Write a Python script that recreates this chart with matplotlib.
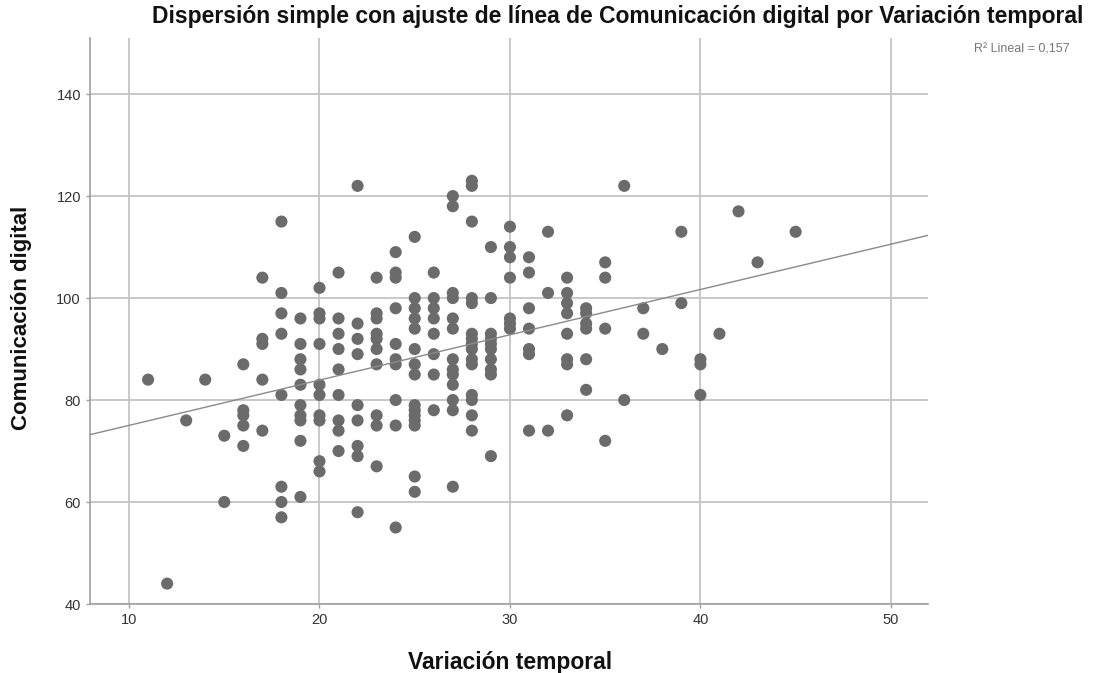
import numpy as np
import matplotlib
matplotlib.use("Agg")
import matplotlib.pyplot as plt

# Data: Variación temporal (x) -> list of Comunicación digital values (y)
columns = {
    11: [84],
    12: [44],
    13: [76],
    14: [84],
    15: [73, 60],
    16: [87, 78, 77, 75, 71],
    17: [104, 92, 91, 84, 74],
    18: [115, 101, 97, 93, 81, 63, 60, 57],
    19: [96, 91, 88, 86, 83, 79, 77, 76, 72, 61],
    20: [102, 97, 96, 91, 83, 81, 77, 76, 68, 66],
    21: [105, 96, 93, 90, 86, 81, 76, 74, 70],
    22: [122, 95, 92, 89, 79, 76, 71, 69, 58],
    23: [104, 97, 96, 93, 92, 90, 87, 77, 75, 67],
    24: [109, 105, 104, 98, 91, 88, 87, 80, 75, 55],
    25: [112, 100, 98, 96, 94, 90, 87, 85, 79, 78, 77, 76, 75, 65, 62],
    26: [105, 100, 98, 96, 93, 89, 85, 78],
    27: [120, 118, 101, 100, 96, 94, 88, 86, 85, 83, 80, 78, 63],
    28: [123, 122, 115, 100, 99, 93, 92, 91, 90, 88, 87, 81, 80, 77, 74],
    29: [110, 100, 93, 92, 91, 90, 88, 86, 85, 69],
    30: [114, 110, 108, 104, 96, 95, 94],
    31: [108, 105, 98, 94, 90, 89, 74],
    32: [113, 101, 74],
    33: [104, 101, 99, 97, 93, 88, 87, 77],
    34: [98, 97, 95, 94, 88, 82],
    35: [107, 104, 94, 72],
    36: [122, 80],
    37: [98, 93],
    38: [90],
    39: [113, 99],
    40: [88, 87, 81],
    41: [93],
    42: [117],
    43: [107],
    45: [113],
}
x_vals = [x for x, ys in columns.items() for _ in ys]
y_vals = [y for ys in columns.values() for y in ys]

x_ticks = [10, 20, 30, 40, 50]
y_ticks = [40, 60, 80, 100, 120, 140]
title = "Dispersión simple con ajuste de línea de Comunicación digital por Variación temporal"
xlabel = "Variación temporal"
ylabel = "Comunicación digital"
r2_text = "R² Lineal = 0,157"

plt.rcParams['font.family'] = ['Liberation Sans', 'DejaVu Sans']

fig = plt.figure(figsize=(11.01, 6.73), dpi=100)
ax = fig.add_axes([90/1101, 1 - 604/673, (928-90)/1101, (604-38)/673])

xlim = (7.95, 51.95)
ylim = (40, 151)
ax.set_xlim(*xlim)
ax.set_ylim(*ylim)

ax.set_xticks(x_ticks)
ax.set_yticks(y_ticks)
ax.grid(True, color='#c4c4c4', linewidth=1.3)
ax.set_axisbelow(True)

for s in ['top', 'right']:
    ax.spines[s].set_visible(False)
for s in ['left', 'bottom']:
    ax.spines[s].set_color('#a0a0a0')
    ax.spines[s].set_linewidth(1.2)
ax.tick_params(axis='both', colors='#a0a0a0', length=3, width=1,
               labelcolor='#333333', labelsize=10.5)

ax.scatter(x_vals, y_vals, s=76, color='#6b6b6b', edgecolors='none', zorder=3)

coef = np.polyfit(x_vals, y_vals, 1)
xx = np.array(xlim)
ax.plot(xx, np.polyval(coef, xx), color='#8a8a8a', linewidth=1.0, zorder=4)

fig.text(618/1101, 1 - 17/673, title, ha='center', va='center',
         fontsize=16.5, fontweight='bold', color='#111111')
fig.text(510/1101, 1 - 662/673, xlabel, ha='center', va='center',
         fontsize=16.5, fontweight='bold', color='#111111')
fig.text(22/1101, 1 - 318/673, ylabel, ha='center', va='center', rotation=90,
         fontsize=16, fontweight='bold', color='#111111')
fig.text(1070/1101, 1 - 50/673, r2_text, ha='right', va='center',
         fontsize=9, color='#777777')

fig.savefig("out.png", dpi=100)
